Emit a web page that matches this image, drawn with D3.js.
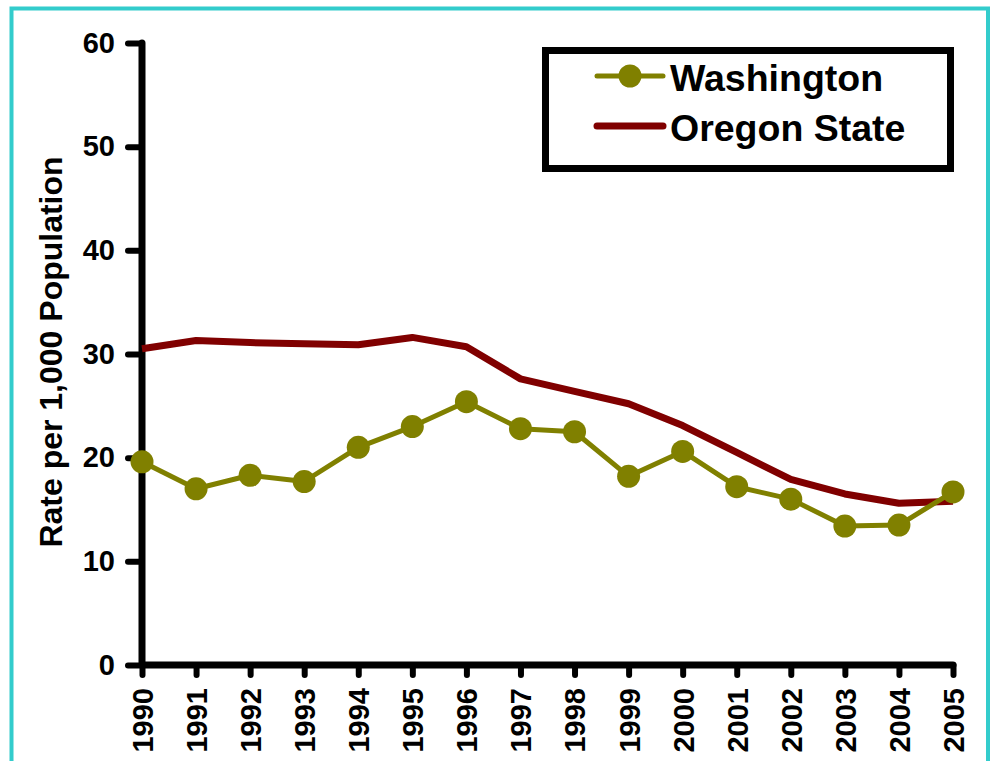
<!DOCTYPE html>
<html lang="en">
<head>
    <meta charset="UTF-8">
    <title>Rate per 1,000 Population</title>
    <style>
        * {
            margin:0;
            border:0;
            box-sizing:border-box;
        }
        body {
            background:#fff;
            width:995px;
            height:761px;
            overflow:hidden;
        }
        text {
            font-family:"Liberation Sans", Arial, sans-serif;
            font-weight:bold;
        }
    </style>
    <script src="https://unpkg.com/d3@7.6.1/dist/d3.min.js"></script>
    <script>
        const years=["1990","1991","1992","1993","1994","1995","1996","1997","1998","1999","2000","2001","2002","2003","2004","2005"];
        const washington=[19.6,17.0,18.3,17.7,21.0,23.0,25.4,22.8,22.5,18.2,20.6,17.2,16.0,13.4,13.5,16.7];
        const oregon=[30.5,31.3,31.1,31.0,30.9,31.6,30.7,27.6,26.4,25.2,23.1,20.5,17.9,16.5,15.6,15.8];
        const yTicks=[0,10,20,30,40,50,60];
        const seriesNames=["Washington","Oregon State"];
    </script>
</head>
<body>
    <div id="chart"></div>
    <script>
        const width=995;
        const height=761;
        const marginTop=43;
        const marginRight=42;
        const marginBottom=96;
        const marginLeft=142;

        const olive="#808000";
        const maroon="#800000";

        const xScale=d3.scalePoint(years,[marginLeft,width-marginRight]);
        const yScale=d3.scaleLinear([0,60],[height-marginBottom,marginTop]);

        const svg=d3.select("#chart").append("svg")
            .attr("width",width)
            .attr("height",height);

        // cyan frame
        svg.append("rect")
            .attr("x",11.5).attr("y",8.5)
            .attr("width",976.5).attr("height",800)
            .attr("fill","none")
            .attr("stroke","#33cccc")
            .attr("stroke-width",4);

        const yAxis=d3.axisLeft(yScale).tickValues(yTicks).tickSize(14).tickPadding(13);
        const xAxis=d3.axisBottom(xScale).tickSize(10).tickPadding(13);

        svg.append("g")
            .attr("transform",`translate(${marginLeft},0)`)
            .call(yAxis)
            .call(g=>g.select(".domain").remove())
            .call(g=>g.selectAll(".tick line").attr("stroke-width",6).attr("stroke-linecap","round"))
            .call(g=>g.selectAll(".tick text").attr("font-size",29).attr("fill","#000"));

        svg.append("g")
            .attr("transform",`translate(0,${height-marginBottom})`)
            .call(xAxis)
            .call(g=>g.select(".domain").remove())
            .call(g=>g.selectAll(".tick line").attr("stroke-width",6).attr("stroke-linecap","round"))
            .call(g=>g.selectAll(".tick text")
                .attr("font-size",29)
                .attr("fill","#000")
                .attr("text-anchor","end")
                .attr("transform","rotate(-90)")
                .attr("x",-23)
                .attr("y",0)
                .attr("dy","0.36em"));

        // axis lines
        svg.append("path")
            .attr("d",`M${marginLeft},${marginTop}V${height-marginBottom}H${width-marginRight}`)
            .attr("fill","none")
            .attr("stroke","#000")
            .attr("stroke-width",7)
            .attr("stroke-linejoin","round")
            .attr("stroke-linecap","round");

        svg.append("text")
            .attr("transform",`translate(62,352) rotate(-90)`)
            .attr("text-anchor","middle")
            .attr("font-size",32)
            .text("Rate per 1,000 Population");

        const line=d3.line().x((d,i)=>xScale(years[i])).y(d=>yScale(d));

        svg.append("path")
            .attr("d",line(oregon))
            .attr("fill","none")
            .attr("stroke",maroon)
            .attr("stroke-width",7)
            .attr("stroke-linejoin","round");

        svg.append("path")
            .attr("d",line(washington))
            .attr("fill","none")
            .attr("stroke",olive)
            .attr("stroke-width",5)
            .attr("stroke-linejoin","round");

        svg.append("g")
            .attr("fill",olive)
            .selectAll("circle")
            .data(washington)
            .join("circle")
              .attr("cx",(d,i)=>xScale(years[i]))
              .attr("cy",d=>yScale(d))
              .attr("r",11.5);

        // legend
        const legend=svg.append("g");
        legend.append("rect")
            .attr("x",545.5).attr("y",50.5)
            .attr("width",405).attr("height",118)
            .attr("fill","#fff")
            .attr("stroke","#000")
            .attr("stroke-width",7);
        const legendY=[77,127];
        const legendColor=[olive,maroon];
        const legendWidth=[5,7];
        seriesNames.forEach((name,i)=>{
            legend.append("line")
                .attr("x1",597).attr("x2",663)
                .attr("y1",legendY[i]-1).attr("y2",legendY[i]-1)
                .attr("stroke",legendColor[i])
                .attr("stroke-width",legendWidth[i])
                .attr("stroke-linecap","round");
            if(i===0){
                legend.append("circle")
                    .attr("cx",630).attr("cy",legendY[i]-1)
                    .attr("r",11.5)
                    .attr("fill",olive);
            }
            legend.append("text")
                .attr("x",670).attr("y",legendY[i])
                .attr("dy","0.36em")
                .attr("font-size",37.5)
                .text(name);
        });
    </script>
</body>
</html>
